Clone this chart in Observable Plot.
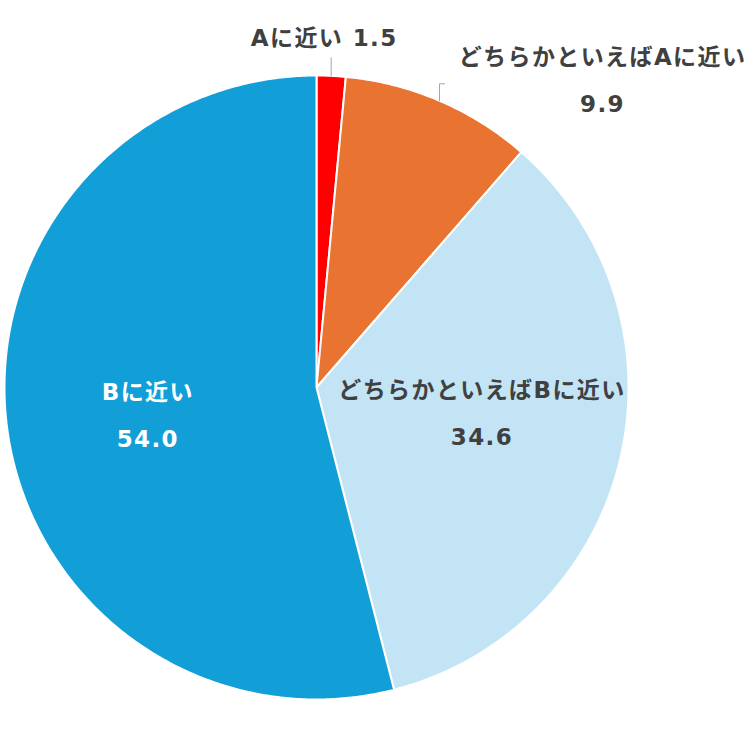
<!DOCTYPE html>
<html>
<head>
<meta charset="utf-8">
<script src="https://cdn.jsdelivr.net/npm/d3@7"></script>
<script src="https://cdn.jsdelivr.net/npm/@observablehq/plot@0.6"></script>
<style>
  html, body { margin: 0; padding: 0; background: #fff; }
  #chart svg { display: block; }
  #chart svg text { letter-spacing: 1.4px; }
</style>
</head>
<body>
<div id="chart"></div>
<script>
const categories = ["Aに近い", "どちらかといえばAに近い", "どちらかといえばBに近い", "Bに近い"];
const values = [1.5, 9.9, 34.6, 54.0];
const valueLabels = ["1.5", "9.9", "34.6", "54.0"];
const colors = ["#FF0000", "#E97330", "#C2E4F4", "#129ED6"];

const total = d3.sum(values);
let cum = 0;
const slices = categories.map((c, i) => {
  const a0 = cum / total * 2 * Math.PI;
  cum += values[i];
  const a1 = cum / total * 2 * Math.PI;
  return {cat: c, i, a0, a1, mid: (a0 + a1) / 2};
});

// polygon points of each slice (angle clockwise from top)
const pts = [];
for (const s of slices) {
  pts.push({cat: s.cat, x: 0, y: 0});
  const n = Math.max(4, Math.ceil((s.a1 - s.a0) / (Math.PI / 360)));
  for (let k = 0; k <= n; k++) {
    const a = s.a0 + (s.a1 - s.a0) * k / n;
    pts.push({cat: s.cat, x: Math.sin(a), y: Math.cos(a)});
  }
}

const R = 312; // px per unit radius
const at = (a, r) => ({x: r * Math.sin(a), y: r * Math.cos(a)});

const inside = slices.filter(s => s.i >= 2).map(s => ({
  ...at(s.mid, 0.545), text: categories[s.i] + "\n" + valueLabels[s.i], white: s.i === 3,
  shift: s.i === 2 ? -20 : 0
}));

const sA = slices[0], sO = slices[1];
const pA = at(sA.mid, 1), pO = at(sO.mid, 1);
const leaderA = [pA, {x: pA.x, y: pA.y + 18 / R}];
const leaderO = [pO, {x: pO.x, y: pO.y + 17 / R}, {x: pO.x + 5 / R, y: pO.y + 17 / R}];

const font = "'DejaVu Sans', 'Noto Sans CJK JP', sans-serif";
const fs = 23;

const chart = Plot.plot({
  width: 756,
  height: 756,
  marginLeft: 4,
  marginRight: 128,
  marginTop: 75,
  marginBottom: 57,
  x: {domain: [-1, 1], axis: null},
  y: {domain: [-1, 1], axis: null},
  color: {domain: categories, range: colors},
  style: {fontFamily: font},
  marks: [
    Plot.line(pts, {x: "x", y: "y", z: "cat", fill: "cat", stroke: "white", strokeWidth: 2, curve: "linear-closed"}),
    Plot.line(leaderA, {x: "x", y: "y", stroke: "#A6A6A6", strokeWidth: 1}),
    Plot.line(leaderO, {x: "x", y: "y", stroke: "#A6A6A6", strokeWidth: 1}),
    Plot.text(inside.filter(d => !d.white), {x: "x", y: "y", text: "text", fill: "#404040", dy: -20,
      fontSize: fs, fontWeight: "bold", lineHeight: 2.05, textAnchor: "middle", lineAnchor: "middle"}),
    Plot.text(inside.filter(d => d.white), {x: "x", y: "y", text: "text", fill: "#FFFFFF",
      fontSize: fs, fontWeight: "bold", lineHeight: 2.05, textAnchor: "middle", lineAnchor: "middle"}),
    Plot.text([pA], {x: "x", y: "y", text: () => categories[0] + " " + valueLabels[0], dx: -7, dy: -37,
      fill: "#404040", fontSize: fs, fontWeight: "bold", textAnchor: "middle", lineAnchor: "middle"}),
    Plot.text([pO], {x: "x", y: "y", text: () => categories[1] + "\n" + valueLabels[1], dx: 163, dy: -27,
      fill: "#404040", fontSize: fs, fontWeight: "bold", lineHeight: 2.05, textAnchor: "middle", lineAnchor: "middle"})
  ]
});
document.getElementById("chart").appendChild(chart);
</script>
</body>
</html>
